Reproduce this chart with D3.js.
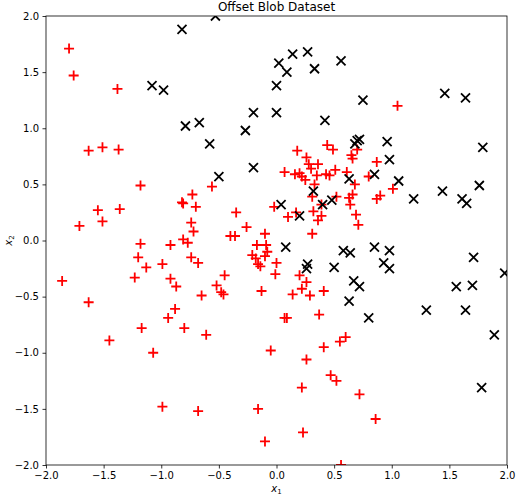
<!DOCTYPE html>
<html>
<head>
<meta charset="utf-8">
<script src="https://cdn.jsdelivr.net/npm/d3@7"></script>
<style>
  body { margin: 0; background: #fff; }
  svg { display: block; font-family: "DejaVu Sans", sans-serif; }
</style>
</head>
<body>
<div id="chart"></div>
<script>
"use strict";
// class 0 (red +) as [x1, x2]
var plusPoints = [
  [-1.80,1.71],[-1.76,1.47],[-1.38,1.35],[-1.63,0.80],[-1.51,0.83],[-1.37,0.81],
  [-1.18,0.49],[-1.55,0.27],[-1.36,0.28],[-1.51,0.17],[-1.71,0.13],[-0.82,0.34],
  [-0.81,0.33],[-0.73,0.41],[-0.70,0.30],[-0.56,0.48],[-0.74,0.16],[-0.72,0.08],
  [-0.81,0.01],[-0.35,0.25],[-0.26,0.12],[-0.40,0.04],[-0.36,0.04],[-0.10,0.06],
  [-1.18,-0.03],[-0.92,-0.04],[-0.77,-0.02],[-1.20,-0.15],[-1.13,-0.24],[-0.99,-0.21],
  [-0.74,-0.15],[-0.68,-0.20],[-0.17,-0.04],[-0.09,-0.04],[-0.08,-0.10],[-0.21,-0.13],
  [-0.18,-0.16],[-0.10,-0.14],[-0.16,-0.21],[-0.14,-0.23],[0.00,-0.20],[-0.01,-0.30],
  [-1.86,-0.36],[-1.63,-0.55],[-1.45,-0.89],[-1.23,-0.33],[-0.92,-0.34],[-0.87,-0.41],
  [-1.17,-0.78],[-1.07,-1.00],[-0.88,-0.61],[-0.94,-0.69],[-0.80,-0.78],[-0.65,-0.49],
  [-0.61,-0.84],[-0.52,-0.40],[-0.48,-0.46],[-0.45,-0.31],[-0.46,-0.48],[-0.13,-0.45],
  [-0.05,-0.98],[-0.99,-1.48],[-0.68,-1.52],[-0.16,-1.50],[-0.10,-1.79],
  [0.20,-0.31],[0.26,-0.37],[0.22,-0.43],[0.14,-0.48],[0.29,-0.49],[0.41,-0.45],
  [0.07,-0.69],[0.09,-0.69],[0.37,-0.66],[0.26,-1.06],[0.41,-0.95],[0.55,-0.90],
  [0.60,-0.86],[0.47,-1.20],[0.52,-1.25],[0.22,-1.31],[0.72,-1.37],[0.86,-1.59],
  [0.23,-1.71],[0.56,-2.00],
  [1.05,1.20],[0.18,0.80],[0.44,0.85],[0.49,0.81],[0.65,0.76],[0.66,0.73],[0.70,0.81],
  [0.26,0.74],[0.28,0.68],[0.36,0.68],[0.87,0.70],[0.07,0.61],[0.16,0.59],[0.20,0.60],
  [0.22,0.57],[0.25,0.54],[0.30,0.64],[0.35,0.58],[0.33,0.50],[0.43,0.59],[0.46,0.58],
  [0.51,0.63],[0.61,0.61],[0.80,0.57],[0.68,0.50],[1.01,0.46],[0.90,0.40],[0.87,0.37],
  [0.66,0.41],[0.63,0.38],[0.64,0.32],[0.52,0.39],[0.31,0.39],[0.39,0.32],[-0.02,0.30],
  [0.17,0.25],[0.10,0.21],[0.32,0.26],[0.39,0.22],[0.36,0.18],[0.69,0.23],[0.71,0.14],
  [0.31,0.06]
];
// class 1 (black x)
var crossPoints = [
  [-0.82,1.88],[-0.53,2.00],[-1.08,1.38],[-0.98,1.34],[-0.79,1.02],[-0.67,1.05],
  [-0.58,0.86],[-0.27,0.98],[-0.20,1.14],[-0.20,0.65],[-0.50,0.57],[0.02,1.58],
  [0.14,1.66],[0.27,1.68],[0.09,1.50],[0.33,1.53],[0.56,1.60],[0.00,1.38],[0.00,1.14],
  [0.75,1.25],[0.42,1.07],[1.46,1.31],[1.64,1.27],[1.79,0.83],[0.96,0.88],[0.98,0.72],
  [0.68,0.86],[0.70,0.89],[0.72,0.90],[0.85,0.59],[0.63,0.55],[1.06,0.53],[0.32,0.44],
  [1.19,0.37],[1.44,0.44],[1.61,0.37],[1.65,0.33],[1.76,0.49],[0.04,0.32],[0.20,0.22],
  [0.40,0.32],[0.48,0.36],[0.08,-0.06],[0.58,-0.09],[0.64,-0.11],[0.85,-0.06],
  [0.98,-0.09],[0.27,-0.21],[0.26,-0.25],[0.50,-0.24],[0.93,-0.20],[0.98,-0.25],
  [1.71,-0.15],[1.98,-0.29],[0.67,-0.36],[0.72,-0.41],[0.63,-0.54],[0.80,-0.69],
  [1.56,-0.41],[1.70,-0.40],[1.30,-0.62],[1.64,-0.62],[1.89,-0.84],[1.78,-1.31]
];
var xTicks = [-2.0,-1.5,-1.0,-0.5,0.0,0.5,1.0,1.5,2.0];
var yTicks = [-2.0,-1.5,-1.0,-0.5,0.0,0.5,1.0,1.5,2.0];
var title = "Offset Blob Dataset";

var W = 516, H = 496;
var m = {left: 46, right: 9, top: 16, bottom: 31};

var svg = d3.select("#chart").append("svg")
  .attr("width", W).attr("height", H);

var x = d3.scaleLinear().domain([-2, 2]).range([m.left, W - m.right]);
var y = d3.scaleLinear().domain([-2, 2]).range([H - m.bottom, m.top]);

var fmt = function(d) { return d3.format(".1f")(d).replace("-", "\u2212"); };

svg.append("clipPath").attr("id", "clip")
  .append("rect")
  .attr("x", m.left).attr("y", m.top)
  .attr("width", W - m.left - m.right).attr("height", H - m.top - m.bottom);

var plot = svg.append("g").attr("clip-path", "url(#clip)");

// marker half-sizes
var ps = 5, xs = 4.5;
plot.selectAll("path.plus")
  .data(plusPoints)
  .enter().append("path")
  .attr("class", "plus")
  .attr("d", function(d) {
    var cx = x(d[0]), cy = y(d[1]);
    return "M" + (cx - ps) + "," + cy + "H" + (cx + ps) +
      "M" + cx + "," + (cy - ps) + "V" + (cy + ps);
  })
  .attr("stroke", "#ff0000").attr("stroke-width", 1.8).attr("fill", "none");

plot.selectAll("path.cross")
  .data(crossPoints)
  .enter().append("path")
  .attr("class", "cross")
  .attr("d", function(d) {
    var cx = x(d[0]), cy = y(d[1]);
    return "M" + (cx - xs) + "," + (cy - xs) + "L" + (cx + xs) + "," + (cy + xs) +
      "M" + (cx - xs) + "," + (cy + xs) + "L" + (cx + xs) + "," + (cy - xs);
  })
  .attr("stroke", "#000").attr("stroke-width", 1.8).attr("fill", "none");

// axes
var xAxis = d3.axisBottom(x).tickValues(xTicks).tickFormat(fmt)
  .tickSizeInner(3.5).tickSizeOuter(0).tickPadding(3.5);
var yAxis = d3.axisLeft(y).tickValues(yTicks).tickFormat(fmt)
  .tickSizeInner(3.5).tickSizeOuter(0).tickPadding(3.5);

var gx = svg.append("g").attr("transform", "translate(0," + (H - m.bottom) + ")").call(xAxis);
var gy = svg.append("g").attr("transform", "translate(" + m.left + ",0)").call(yAxis);
[gx, gy].forEach(function(g) {
  g.select(".domain").remove();
  g.selectAll("line").attr("stroke", "#000").attr("stroke-width", 0.8);
  g.selectAll("text").attr("fill", "#000")
    .style("font-size", "10px").style("font-family", "DejaVu Sans, sans-serif");
});

svg.append("rect")
  .attr("x", m.left).attr("y", m.top)
  .attr("width", W - m.left - m.right).attr("height", H - m.top - m.bottom)
  .attr("fill", "none").attr("stroke", "#000").attr("stroke-width", 0.8);

svg.append("text")
  .attr("x", (x(-2) + x(2)) / 2).attr("y", 10.5)
  .attr("text-anchor", "middle")
  .style("font-size", "12px")
  .text(title);

// axis labels (math style x with subscript)
var xl = svg.append("text")
  .attr("x", (x(-2) + x(2)) / 2).attr("y", 492)
  .attr("text-anchor", "middle").style("font-size", "10px");
xl.append("tspan").style("font-style", "italic").text("x");
xl.append("tspan").attr("dy", 2).style("font-size", "7px").text("1");

var yl = svg.append("text")
  .attr("transform", "translate(12," + ((y(-2) + y(2)) / 2) + ") rotate(-90)")
  .attr("text-anchor", "middle").style("font-size", "10px");
yl.append("tspan").style("font-style", "italic").text("x");
yl.append("tspan").attr("dy", 2).style("font-size", "7px").text("2");
</script>
</body>
</html>
